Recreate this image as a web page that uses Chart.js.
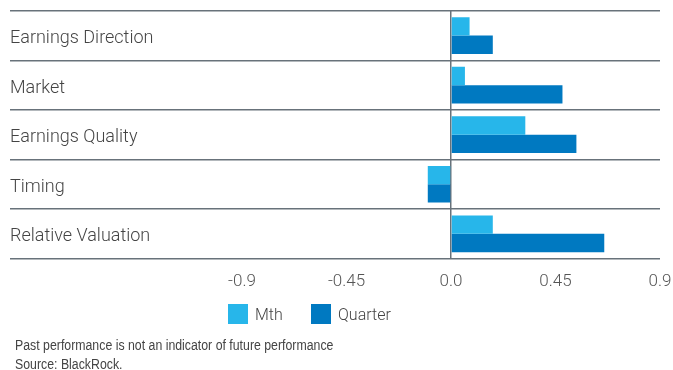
<!DOCTYPE html>
<html>
<head>
<meta charset="utf-8">
<script src="https://cdn.jsdelivr.net/npm/chart.js@4"></script>
<style>
  body { margin: 0; background: #fff; }
  #wrap { position: relative; width: 673px; height: 370px; overflow: hidden; }
  #box { position: absolute; left: 0; top: 0; width: 673px; height: 313px; }
  #legend { position: absolute; left: 228px; top: 304px; font: 300 16px Roboto, sans-serif; color: #444; }
  .item { position: absolute; top: 0; white-space: nowrap; }
  .swatch { position: absolute; left: 0; top: 0; width: 20px; height: 20px; }
  .item span { position: absolute; left: 27px; top: 1px; line-height: 20px; }
  .note { position: absolute; left: 15px; font: 14px "Liberation Sans", Arial, sans-serif; color: #444; white-space: nowrap; transform: scaleX(0.88); transform-origin: 0 0; }
</style>
</head>
<body>
<div id="wrap">
  <div id="box"><canvas id="chart"></canvas></div>
  <div id="legend"></div>
  <div class="note" style="top: 337px;">Past performance is not an indicator of future performance</div>
  <div class="note" style="top: 356px;">Source: BlackRock.</div>
</div>
<script>
// signal groups, top to bottom
const categories = ['Earnings Direction', 'Market', 'Earnings Quality', 'Timing', 'Relative Valuation'];
const mthValues = [0.08, 0.06, 0.32, -0.10, 0.18];
const quarterValues = [0.18, 0.48, 0.54, -0.10, 0.66];
const xTickValues = [-0.9, -0.45, 0, 0.45, 0.9];
const xTickLabels = ['-0.9', '-0.45', '0.0', '0.45', '0.9'];

const seriesNames = ['Mth', 'Quarter'];
const seriesColors = ['#27b6ea', '#0079c1'];

const lineColor = '#68727a';

const chart = new Chart(document.getElementById('chart'), {
    type: 'bar',
    data: {
        labels: categories,
        datasets: [mthValues, quarterValues].map((vals, i) => ({
            label: seriesNames[i],
            data: vals,
            backgroundColor: seriesColors[i],
            borderWidth: 0,
            categoryPercentage: 0.74,
            barPercentage: 1.0
        }))
    },
    options: {
        indexAxis: 'y',
        responsive: true,
        maintainAspectRatio: false,
        animation: false,
        layout: { padding: { left: 10, right: 13, top: 10, bottom: 8 } },
        plugins: {
            legend: { display: false },
            tooltip: { enabled: false }
        },
        scales: {
            x: {
                min: -0.9,
                max: 0.9,
                z: 1,
                afterBuildTicks: scale => {
                    scale.ticks = xTickValues.map(v => ({ value: v }));
                },
                // let the layout padding decide the right edge
                afterFit: scale => { scale.paddingLeft = 0; scale.paddingRight = 0; },
                ticks: {
                    padding: 13,
                    color: '#555',
                    font: { family: 'Roboto', size: 17, weight: 300 },
                    callback: (value, index) => xTickLabels[index]
                },
                grid: {
                    drawTicks: false,
                    lineWidth: 1.5,
                    color: ctx => (ctx.tick && ctx.tick.value === 0) ? lineColor : 'rgba(0,0,0,0)'
                },
                border: { display: false }
            },
            y: {
                afterFit: scale => { scale.width = 232; },
                ticks: {
                    crossAlign: 'far',
                    padding: 0,
                    labelOffset: 3,
                    color: '#444',
                    font: { family: 'Roboto', size: 18, weight: 300 }
                },
                grid: {
                    offset: true,
                    lineWidth: 1.5,
                    color: lineColor,
                    drawTicks: true,
                    tickLength: 232
                },
                border: { display: false }
            }
        }
    }
});

// legend built from the datasets
const legend = document.getElementById('legend');
chart.data.datasets.forEach((ds, i) => {
    const item = document.createElement('div');
    item.className = 'item';
    item.style.left = (i * 83) + 'px';
    item.innerHTML = '<div class="swatch" style="background:' + ds.backgroundColor + '"></div><span>' + ds.label + '</span>';
    legend.appendChild(item);
});
</script>
</body>
</html>
